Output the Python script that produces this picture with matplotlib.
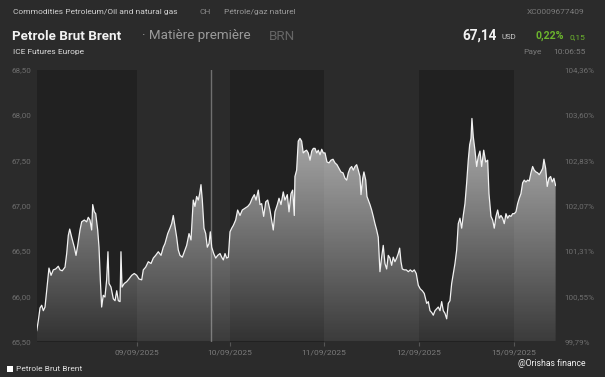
import numpy as np
import matplotlib
matplotlib.use("Agg")
import matplotlib.pyplot as plt
from matplotlib.patches import Polygon, Rectangle

plt.rcParams['font.family'] = ['Roboto', 'DejaVu Sans']

# ---------------- data ----------------
# time in trading-session units (session of 09/09 starts at 1.0)
times = [
    -0.064, -0.047, -0.029, -0.011, 0.006, 0.024, 0.042, 0.066, 0.088, 0.112,
    0.137, 0.165, 0.183, 0.207, 0.236, 0.254, 0.271, 0.286, 0.307, 0.335,
    0.353, 0.371, 0.395, 0.413, 0.441, 0.466, 0.483, 0.501, 0.519, 0.530,
    0.547, 0.562, 0.583, 0.597, 0.611, 0.625, 0.642, 0.660, 0.678, 0.692,
    0.703, 0.724, 0.749, 0.767, 0.785, 0.802, 0.820, 0.830, 0.841, 0.865,
    0.891, 0.915, 0.944, 0.971, 0.997, 1.021, 1.050, 1.067, 1.092, 1.120,
    1.149, 1.173, 1.198, 1.226, 1.255, 1.279,
    1.297, 1.326, 1.350, 1.368, 1.385, 1.403, 1.421, 1.438, 1.456, 1.481,
    1.502, 1.527, 1.552, 1.573, 1.597, 1.615, 1.633, 1.650, 1.665, 1.679,
    1.693, 1.711, 1.729, 1.746, 1.764, 1.778, 1.793, 1.814, 1.835, 1.856,
    1.881, 1.899, 1.916, 1.934, 1.952, 1.969, 1.987, 2.005, 2.022, 2.047,
    2.068, 2.093, 2.117, 2.146, 2.175, 2.199, 2.223, 2.245, 2.263, 2.287,
    2.305, 2.323, 2.344, 2.366, 2.387, 2.411, 2.429, 2.446, 2.464, 2.489,
    2.507, 2.528, 2.552, 2.570, 2.595, 2.613, 2.634, 2.652, 2.669,
    2.676, 2.694, 2.711, 2.729, 2.747, 2.764, 2.782, 2.800, 2.817, 2.836,
    2.854, 2.871, 2.889, 2.907, 2.924, 2.942, 2.960, 2.977, 2.995, 3.016,
    3.037, 3.058, 3.080, 3.101, 3.122, 3.143, 3.164, 3.186, 3.207, 3.225,
    3.242, 3.260, 3.278, 3.295, 3.313, 3.331, 3.348, 3.366, 3.377, 3.395,
    3.408, 3.427, 3.440, 3.454, 3.472, 3.490, 3.507, 3.525, 3.543, 3.560,
    3.578, 3.596, 3.613, 3.631, 3.649, 3.666, 3.684, 3.702, 3.719, 3.737,
    3.755, 3.772, 3.787, 3.801, 3.815, 3.836, 3.857, 3.879, 3.900, 3.921,
    3.942, 3.963, 3.985, 4.006, 4.027, 4.048,
    4.074, 4.091, 4.109, 4.127, 4.144, 4.162, 4.180, 4.197, 4.215, 4.233,
    4.250, 4.268, 4.286, 4.303, 4.321, 4.339, 4.356, 4.374, 4.392, 4.409,
    4.427, 4.445, 4.462, 4.480, 4.498, 4.515, 4.530, 4.544, 4.554, 4.568,
    4.586, 4.604, 4.621, 4.639, 4.657, 4.679, 4.700, 4.721, 4.735, 4.756,
    4.774, 4.791, 4.809, 4.827, 4.844, 4.862, 4.880, 4.897, 4.915, 4.933,
    4.950, 4.968, 4.986, 5.003, 5.021, 5.039, 5.056, 5.074, 5.092, 5.109,
    5.127, 5.145, 5.162, 5.180, 5.198, 5.215, 5.233, 5.251, 5.268, 5.286,
    5.305, 5.318, 5.336, 5.353, 5.371, 5.389, 5.406, 5.424, 5.442,
]
prices = [
    65.62, 65.73, 65.87, 65.90, 65.84, 65.88, 66.06, 66.31, 66.23, 66.29,
    66.30, 66.33, 66.29, 66.28, 66.32, 66.47, 66.67, 66.74, 66.65, 66.54,
    66.45, 66.56, 66.73, 66.82, 66.84, 66.82, 66.87, 66.84, 66.73, 67.01,
    66.93, 66.91, 66.73, 66.54, 66.18, 65.88, 66.01, 65.99, 66.18, 66.49,
    66.14, 66.10, 65.97, 65.95, 66.06, 65.95, 65.94, 66.49, 66.10, 66.14,
    66.16, 66.19, 66.23, 66.25, 66.23, 66.19, 66.18, 66.29, 66.32, 66.38,
    66.36, 66.42, 66.45, 66.49, 66.45, 66.54,
    66.58, 66.69, 66.75, 66.80, 66.89, 66.77, 66.65, 66.51, 66.45, 66.43,
    66.49, 66.56, 66.69, 66.62, 67.06, 66.99, 67.10, 67.06, 67.13, 67.23,
    67.06, 66.75, 66.69, 66.54, 66.58, 66.71, 66.54, 66.47, 66.42, 66.45,
    66.47, 66.43, 66.40, 66.47, 66.42, 66.43, 66.71, 66.75, 66.78, 66.84,
    66.95, 66.89, 66.95, 66.97, 66.99, 67.02, 67.08, 67.12, 67.06, 67.17,
    67.01, 67.02, 66.88, 67.04, 67.06, 66.95, 66.84, 66.73, 66.93, 67.01,
    67.08, 67.01, 67.15, 67.06, 67.12, 66.93, 67.13, 67.17, 66.89,
    67.32, 67.39, 67.71, 67.74, 67.71, 67.58, 67.60, 67.61, 67.58, 67.50,
    67.60, 67.63, 67.63, 67.58, 67.61, 67.56, 67.62, 67.58, 67.58, 67.48,
    67.47, 67.50, 67.51, 67.47, 67.45, 67.41, 67.37, 67.36, 67.30, 67.28,
    67.36, 67.41, 67.43, 67.39, 67.43, 67.45, 67.39, 67.32, 67.12, 67.30,
    67.37, 67.28, 67.10, 67.06, 67.01, 66.95, 66.88, 66.80, 66.73, 66.65,
    66.27, 66.43, 66.56, 66.36, 66.30, 66.45, 66.42, 66.34, 66.43, 66.38,
    66.42, 66.47, 66.53, 66.38, 66.30, 66.29, 66.29, 66.27, 66.29, 66.27,
    66.29, 66.25, 66.12, 66.08, 66.06, 66.03,
    65.92, 65.94, 65.84, 65.82, 65.79, 65.84, 65.86, 65.88, 65.84, 65.94,
    65.84, 65.81, 65.75, 65.92, 65.95, 66.14, 66.25, 66.36, 66.51, 66.80,
    66.86, 66.75, 66.89, 67.02, 67.25, 67.50, 67.67, 67.74, 67.96, 67.76,
    67.61, 67.43, 67.54, 67.60, 67.43, 67.61, 67.48, 67.50, 67.13, 66.88,
    66.84, 66.75, 66.88, 66.95, 66.86, 66.89, 66.86, 66.80, 66.91, 66.86,
    66.89, 66.88, 66.91, 66.91, 66.93, 67.02, 67.08, 67.13, 67.25, 67.28,
    67.26, 67.28, 67.27, 67.36, 67.43, 67.39, 67.37, 67.36, 67.34, 67.37,
    67.41, 67.51, 67.41, 67.21, 67.30, 67.32, 67.26, 67.30, 67.22,
]

# session boundaries (x tick positions) and labels
session_starts = [1.0, 1.987, 2.984, 3.992, 5.0]
date_labels = ["09/09/2025", "10/09/2025", "11/09/2025", "12/09/2025", "15/09/2025"]
# dark (night) bands
dark_bands = [(-0.061, 1.0), (1.987, 2.984), (3.992, 5.0)]
cursor_time = 1.785

price_ticks = [65.5, 66.0, 66.5, 67.0, 67.5, 68.0, 68.5]
price_labels = ["65,50", "66,00", "66,50", "67,00", "67,50", "68,00", "68,50"]
pct_labels = ["99,79%", "100,55%", "101,31%", "102,07%", "102,83%", "103,60%", "104,36%"]

x_min, x_max = -0.061, 5.446
y_min, y_max = 65.5, 68.5

# ---------------- figure ----------------
W, H = 605, 377
bg = '#2b2b2b'
fig = plt.figure(figsize=(W / 100, H / 100), dpi=100, facecolor=bg)

def fx(px):
    return px / W

def fy(py):
    return 1 - py / H

ax_l, ax_r, ax_t, ax_b = 37, 556, 69.5, 341.5
ax = fig.add_axes([fx(ax_l), fy(ax_b), (ax_r - ax_l) / W, (ax_b - ax_t) / H])
ax.set_facecolor(bg)
ax.set_xlim(x_min, x_max)
ax.set_ylim(y_min, y_max)
for s in ax.spines.values():
    s.set_visible(False)

for a, b in dark_bands:
    ax.axvspan(a, b, color='#212121', zorder=0, lw=0)

ax.axvline(cursor_time, color='#707070', lw=1.0, zorder=1)

t = np.array(times)
v = np.array(prices)
verts = np.column_stack([np.r_[t[0], t, t[-1]], np.r_[y_min, v, y_min]])
poly = Polygon(verts, closed=True, facecolor='none', edgecolor='none',
               transform=ax.transData)
ax.add_patch(poly)
grad = np.ones((256, 2, 4))
grad[:, :, 3] = np.linspace(0.78, 0.08, 256)[:, None]
im = ax.imshow(grad, extent=[x_min, x_max, y_min, y_max], aspect='auto',
               origin='upper', zorder=2, interpolation='bilinear')
im.set_clip_path(poly)
ax.plot(t, v, color='#f2f2f2', lw=0.9, zorder=3)

tick_col = '#6e6e6e'
ax.set_yticks(price_ticks)
ax.set_yticklabels(price_labels)
ax.tick_params(axis='y', length=0, pad=4, labelsize=5.8, labelcolor=tick_col)
ax.set_xticks(session_starts)
ax.set_xticklabels(date_labels)
ax.tick_params(axis='x', length=3, width=0.8, color='#555555', pad=3,
               labelsize=6.0, labelcolor='#7a7a7a')

ax2 = ax.twinx()
ax2.set_ylim(y_min, y_max)
ax2.set_yticks(price_ticks)
ax2.set_yticklabels(pct_labels)
ax2.tick_params(axis='y', length=0, pad=6, labelsize=5.8, labelcolor=tick_col)
for s in ax2.spines.values():
    s.set_visible(False)

# ---------------- header ----------------
fig.text(fx(13), fy(12), "Commodities Petroleum/Oil and natural gas",
         fontsize=6.0, color='#d0d0d0', va='center', ha='left')
fig.text(fx(200), fy(12), "CH", fontsize=6.0, color='#8a8a8a', va='center')
fig.text(fx(224), fy(12), "Pétrole/gaz naturel", fontsize=6.0, color='#9a9a9a', va='center')
fig.text(fx(527), fy(12), "XC0009677409", fontsize=6.0, color='#7a7a7a', va='center')

fig.text(fx(12), fy(36), "Petrole Brut Brent", fontsize=9.6, color='#f2f2f2',
         fontweight='bold', va='center')
fig.text(fx(142), fy(36), "· Matière première", fontsize=9.6, color='#9a9a9a',
         va='center')
fig.text(fx(269), fy(36), "BRN", fontsize=9.6, color='#666666', va='center')
fig.text(fx(13), fy(52), "ICE Futures Europe", fontsize=6.0, color='#dedede', va='center')

fig.text(fx(462), fy(36), "67,14", fontsize=9.8, color='#f2f2f2', fontweight='bold',
         va='center')
fig.text(fx(502), fy(37), "USD", fontsize=5.6, color='#cccccc', va='center')
fig.text(fx(535), fy(36), "0,22%", fontsize=7.6, color='#6cb52d', fontweight='bold',
         va='center')
fig.text(fx(570), fy(37), "0,15", fontsize=6, color='#6cb52d', va='center')
fig.text(fx(523), fy(52), "Paye", fontsize=6.0, color='#7a7a7a', va='center')
fig.text(fx(553), fy(52), "10:06:55", fontsize=6.0, color='#7a7a7a', va='center')

# ---------------- legend / footer ----------------
fig.patches.append(Rectangle((fx(7), fy(372)), 6 / W, 6 / H, transform=fig.transFigure,
                             facecolor='white', edgecolor='none'))
fig.text(fx(16), fy(369), "Petrole Brut Brent", fontsize=6.0, color='#dedede', va='center')
fig.text(fx(518), fy(364), "@Orishas finance", fontsize=6.2, color='#f2f2f2', va='center')

fig.savefig("out.png", dpi=100, facecolor=bg)
